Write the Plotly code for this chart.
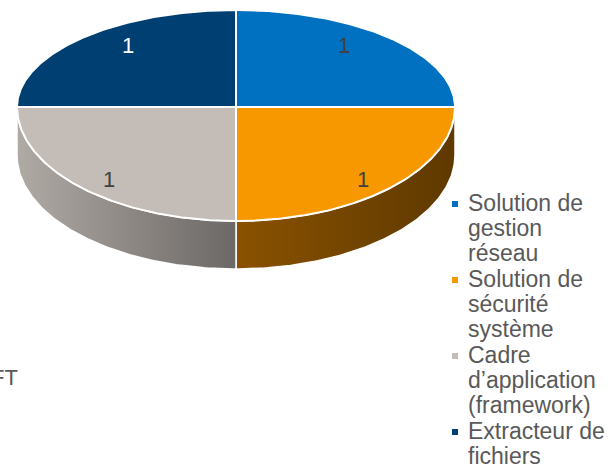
import numpy as np
import plotly.graph_objects as go

# ---- data -------------------------------------------------------------
categories = [
    "Solution de gestion réseau",
    "Solution de sécurité système",
    "Cadre d’application (framework)",
    "Extracteur de fichiers",
]
legend_lines = [
    ["Solution de", "gestion", "réseau"],
    ["Solution de", "sécurité", "système"],
    ["Cadre", "d’application", "(framework)"],
    ["Extracteur de", "fichiers"],
]
values = [1, 1, 1, 1]
top_colors = ["#0070C0", "#F79800", "#C4BDB7", "#003F72"]
side_colors = [
    ["#00528C", "#003560"],
    ["#8A5200", "#5E3900"],
    ["#B0AAA5", "#6C6865"],
    ["#002E54", "#001E38"],
]
label_colors = ["#404040", "#404040", "#404040", "#FFFFFF"]
side_title = "FT"

# ---- geometry of the tilted pie (pixel space) -------------------------
W, H = 612, 467
CX, CY = 236, 107
RX = 219
RY_BACK, RY_FRONT = 97, 114
DEPTH = 48
FONT = "Liberation Sans, Arial, sans-serif"


def rim(theta_deg):
    t = np.radians(theta_deg)
    s = np.sin(t)
    ry = np.where(s >= 0, RY_BACK, RY_FRONT)
    return CX + RX * np.cos(t), CY - ry * s


fig = go.Figure()

total = float(sum(values))
cum = np.concatenate([[0.0], np.cumsum(values)]) / total
starts = 90 - 360 * cum[:-1]
ends = 90 - 360 * cum[1:]

# side walls (front half only), drawn first so the top faces sit over them
for i in range(len(values)):
    a0, a1 = max(ends[i], -180.0), min(starts[i], 0.0)
    if a1 - a0 <= 0.5:
        continue
    th = np.linspace(a0, a1, 120)
    xt, yt = rim(th)
    xs = np.concatenate([xt, xt[::-1], xt[:1]])
    ys = np.concatenate([yt, (yt + DEPTH)[::-1], yt[:1]])
    fig.add_trace(go.Scatter(
        x=xs, y=ys, mode="lines", fill="toself",
        fillgradient=dict(type="horizontal",
                          colorscale=[[0, side_colors[i][0]], [1, side_colors[i][1]]]),
        line=dict(color="white", width=1.5),
        hoverinfo="skip", showlegend=False,
    ))

# top faces
for i in range(len(values)):
    th = np.linspace(starts[i], ends[i], 160)
    xa, ya = rim(th)
    xs = np.concatenate([[CX], xa, [CX]])
    ys = np.concatenate([[CY], ya, [CY]])
    fig.add_trace(go.Scatter(
        x=xs, y=ys, mode="lines", fill="toself", fillcolor=top_colors[i],
        line=dict(color="white", width=2),
        name=categories[i], hoverinfo="name", showlegend=False,
    ))

# value labels
for i, v in enumerate(values):
    mid = np.radians((starts[i] + ends[i]) / 2)
    s = np.sin(mid)
    fx = 0.70 if s >= 0 else 0.82
    ry = RY_BACK if s >= 0 else RY_FRONT
    fig.add_annotation(
        x=CX + fx * RX * np.cos(mid), y=CY - 0.9 * ry * s,
        text=f"{v:g}", showarrow=False,
        font=dict(family=FONT, size=22, color=label_colors[i]),
    )

# legend: square swatches plus wrapped labels
LEG_X, LEG_Y0, ITEM_STEP, LINE_STEP = 455, 203, 76, 25
sw_y = [LEG_Y0 + ITEM_STEP * i + 1 for i in range(len(categories))]
fig.add_trace(go.Scatter(
    x=[LEG_X] * len(categories), y=sw_y, mode="markers",
    marker=dict(symbol="square", size=6, color=top_colors),
    hoverinfo="skip", showlegend=False,
))
for i, lines in enumerate(legend_lines):
    for j, txt in enumerate(lines):
        fig.add_annotation(
            x=LEG_X + 11, y=LEG_Y0 + ITEM_STEP * i + LINE_STEP * j,
            text=txt, showarrow=False, xanchor="left", yanchor="middle",
            font=dict(family=FONT, size=23, color="#595959"),
        )

# partly hidden title on the left edge
fig.add_annotation(
    x=20, y=377, text=side_title, showarrow=False,
    xanchor="right", yanchor="middle",
    font=dict(family=FONT, size=22, color="#595959"),
)

fig.update_layout(
    width=W, height=H, autosize=False,
    margin=dict(l=0, r=0, t=0, b=0),
    paper_bgcolor="white", plot_bgcolor="white",
    xaxis=dict(range=[0, W], visible=False, fixedrange=True),
    yaxis=dict(range=[H, 0], visible=False, fixedrange=True),
    showlegend=False,
)

fig.write_html("out.html")
